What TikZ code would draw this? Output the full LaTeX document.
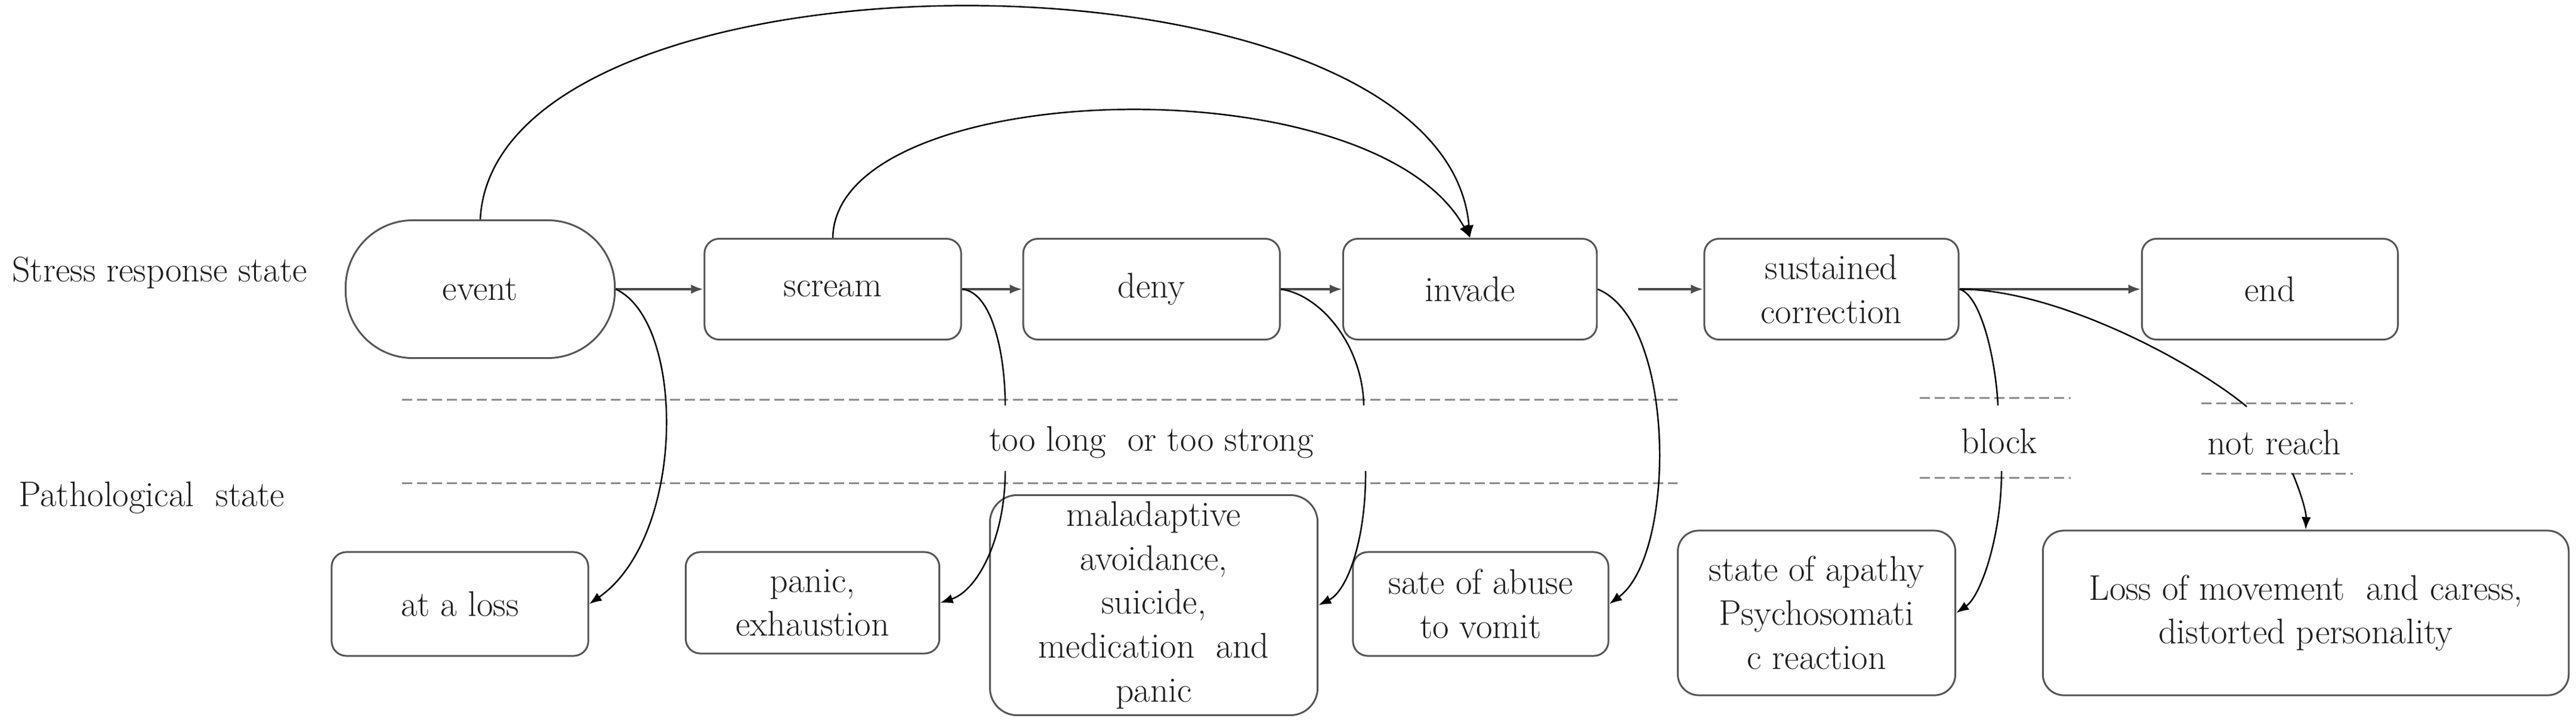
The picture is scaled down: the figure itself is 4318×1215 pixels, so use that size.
\documentclass[tikz,border=0pt]{standalone}
\usetikzlibrary{positioning,arrows.meta}
\definecolor{boxgray}{HTML}{555555}
\definecolor{dashgray}{HTML}{8C8C8C}
\definecolor{inkgray}{HTML}{1F1F1F}

\begin{document}
\begin{tikzpicture}[x=0.01cm,y=-0.01cm,>={Latex[length=6pt,width=4.5pt]},
    every node/.style={font=\fontsize{17pt}{21pt}\selectfont,text=inkgray},
    state/.style={draw=boxgray,line width=0.85pt,rounded corners=7pt,align=center,inner sep=0pt,minimum width=4.3cm,minimum height=1.69cm},
    flow/.style={->,draw=black!70,line width=1.4pt},
    link/.style={->,line width=0.7pt},
    plain/.style={-,line width=0.7pt},
    sep/.style={draw=dashgray,line width=0.85pt,dash pattern=on 4.8pt off 2.3pt}]

    \useasboundingbox (0,0) rectangle (4318,1215);

    % row titles
    \node[anchor=west] (stresslbl) at (8,457) {Stress response state};
    \node[anchor=west] (pathlbl) at (19,835) {Pathological\ \ state};

    % stress response row
    \node[state,rounded corners=32pt,minimum width=4.51cm,minimum height=2.31cm] (event) at (805,485) {event};
    \node[state] (scream) at (1396,485) {scream};
    \node[state] (deny) [right=1.01cm of scream] {deny};
    \node[state,minimum width=4.25cm] (invade) [right=1.03cm of deny] {invade};
    \node[state,minimum width=4.26cm] (sustained) [right=1.77cm of invade] {sustained\\correction};
    \node[state,minimum width=4.29cm] (end) [right=3.04cm of sustained] {end};

    % pathological row
    \node[state,minimum height=1.74cm] (atloss) at (771,1013) {at a loss};
    \node[state,minimum width=4.25cm,minimum height=1.7cm] (panic) at (1362,1011) {panic,\\exhaustion};
    \node[state,rounded corners=13pt,minimum width=5.49cm,minimum height=3.69cm] (malad) at (1934,1015) {maladaptive\\avoidance,\\suicide,\\medication\ \ and\\panic};
    \node[state,minimum width=4.28cm,minimum height=1.74cm] (abuse) at (2482,1013) {sate of abuse\\to vomit};
    \node[state,rounded corners=10pt,minimum width=4.65cm,minimum height=2.76cm] (apathy) at (3045,1028) {state of apathy\\Psychosomati\\c reaction};
    \node[state,rounded corners=10pt,minimum width=8.81cm,minimum height=2.76cm] (loss) at (3865,1028) {Loss of movement\ \ and caress,\\distorted personality};

    % separators
    \draw[sep] (674,670) -- (2812,670);
    \draw[sep] (674,810) -- (2812,810);
    \draw[sep] (3218,667) -- (3471,667);
    \draw[sep] (3218,801) -- (3471,801);
    \draw[sep] (3690,676) -- (3944,676);
    \draw[sep] (3690,794) -- (3944,794);

    \node (toolong) at (1930,742) {too long\ \ or too strong};
    \node (block) at (3351,740) {block};
    \node (notreach) at (3812,742) {not reach};

    \coordinate (inv-out) at (2746,485);
    \coordinate (scr-a) at (1685,680);
    \coordinate (scr-b) at (1685,790);
    \coordinate (den-a) at (2286,680);
    \coordinate (den-b) at (2289,790);
    \coordinate (blk-a) at (3349,680);
    \coordinate (blk-b) at (3355,790);
    \coordinate (nr-a) at (3766,682);
    \coordinate (nr-b) at (3843,794);

    % main flow
    \draw[flow] (event.east) -- (scream.west);
    \draw[flow] (scream.east) -- (deny.west);
    \draw[flow] (deny.east) -- (invade.west);
    \draw[flow] (inv-out) -- (sustained.west);
    \draw[flow] (sustained.east) -- (end.west);

    % jumps
    \draw[link] (event.north) .. controls (830,-112) and (2420,-112) .. (invade.north);
    \draw[link] (scream.north) .. controls (1400,130) and (2300,100) .. (invade.north);

    % down to the pathological states
    \draw[link] (event.east) .. controls (1150,540) and (1150,900) .. (atloss.east);
    \draw[plain] (scream.east) .. controls (1665,490) and (1685,600) .. (scr-a);
    \draw[link] (scr-b) .. controls (1685,900) and (1640,990) .. (panic.east);
    \draw[plain] (deny.east) .. controls (2215,495) and (2284,580) .. (den-a);
    \draw[link] (den-b) .. controls (2290,900) and (2260,990) .. (malad.east);
    \draw[link] (invade.east) .. controls (2810,540) and (2810,930) .. (abuse.east);
    \draw[plain] (sustained.east) .. controls (3320,495) and (3345,600) .. (blk-a);
    \draw[link] (blk-b) .. controls (3355,900) and (3320,1000) .. (apathy.east);
    \draw[plain] (sustained.east) .. controls (3450,485) and (3680,610) .. (nr-a);
    \draw[link] (nr-b) .. controls (3858,830) and (3866,860) .. (loss.north);
\end{tikzpicture}
\end{document}
